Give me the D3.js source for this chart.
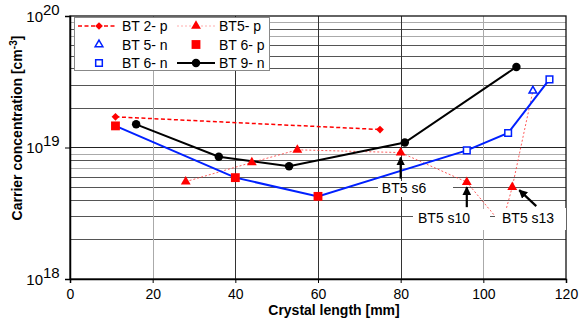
<!DOCTYPE html>
<html><head><meta charset="utf-8">
<script src="https://cdn.jsdelivr.net/npm/d3@7"></script>
<style>
html,body{margin:0;padding:0;background:#fff;}
text{font-family:"Liberation Sans",Arial,Helvetica,sans-serif;}
</style></head>
<body><svg id="c" width="579" height="325"></svg>
<script>
// ---- data ----
const bt2pX = [11, 75];
const bt2pY = [1.71e19, 1.37e19];
const bt5pX = [28, 44, 55, 80, 96, 104.5, 107];
const bt5pY = [5.5e18, 7.7e18, 9.6e18, 9.15e18, 5.45e18, 2.6e18, 5.0e18];
const bt5nX = [112];
const bt5nY = [2.7e19];
const bt6pX = [11, 40, 60];
const bt6pY = [1.46e19, 5.9e18, 4.25e18];
const bt6nX = [96, 106, 116];
const bt6nY = [9.5e18, 1.29e19, 3.3e19];
const bt9nX = [16, 36, 53, 81, 108];
const bt9nY = [1.5e19, 8.5e18, 7.2e18, 1.09e19, 4.1e19];
const xTicks = [0, 20, 40, 60, 80, 100, 120];
const yMajor = [1e18, 1e19, 1e20];
const yTickExp = ["18", "19", "20"];
const legendLabels = ["BT 2- p", "BT5- p", "BT 5- n", "BT 6- p", "BT 6- n", "BT 9- n"];
const annLabels = ["BT5 s6", "BT5 s10", "BT5 s13"];
const annTargetIdx = [3, 4, 6]; // indices into BT5-p series

// ---- setup ----
const svg = d3.select("#c");
const L = 70, R = 566, T = 16, B = 279;
const x = d3.scaleLinear().domain([0, 120]).range([L, R]);
const y = d3.scaleLog().domain([1e18, 1e20]).range([B, T]);
const font = '"Liberation Sans",Arial,Helvetica,sans-serif';

// gridlines
const minor = [];
[1e18, 1e19].forEach(d => { for (let m = 2; m <= 9; m++) minor.push({v: d * m, m}); });
svg.append("g").selectAll("line").data(minor).join("line")
  .attr("x1", L).attr("x2", R)
  .attr("y1", d => Math.round(y(d.v)) + 0.5).attr("y2", d => Math.round(y(d.v)) + 0.5)
  .attr("stroke", d => (d.m === 9 || d.m === 7) ? "#aaa" : "#555").attr("stroke-width", 1);
svg.append("g").selectAll("line").data([1e19]).join("line")
  .attr("x1", L).attr("x2", R).attr("y1", d => Math.round(y(d)) + 0.5).attr("y2", d => Math.round(y(d)) + 0.5)
  .attr("stroke", "#222");
svg.append("g").selectAll("line").data(xTicks.slice(1, -1)).join("line")
  .attr("x1", d => Math.round(x(d)) + 0.5).attr("x2", d => Math.round(x(d)) + 0.5)
  .attr("y1", T).attr("y2", B)
  .attr("stroke", d => (d === 20 || d === 100) ? "#aaa" : "#333");

// frame
svg.append("rect").attr("x", L).attr("y", T).attr("width", R - L).attr("height", B - T)
  .attr("fill", "none").attr("stroke", "#111").attr("stroke-width", 1.3);

// axes
const xAxis = d3.axisBottom(x).tickValues(xTicks).tickSize(4).tickFormat(d3.format("d"));
const gx = svg.append("g").attr("transform", `translate(0,${B})`).call(xAxis);
gx.select(".domain").attr("stroke", "#000").attr("stroke-width", 1.5);
gx.selectAll(".tick line").attr("stroke", "#000");
gx.selectAll(".tick text").attr("font-size", 14).attr("font-family", font).attr("fill", "#000").attr("dy", "0.95em");

const yAxis = d3.axisLeft(y).tickValues(yMajor).tickSize(5).tickFormat("");
const gy = svg.append("g").attr("transform", `translate(${L},0)`).call(yAxis);
gy.select(".domain").attr("stroke", "#000").attr("stroke-width", 1.5);
gy.selectAll(".tick line").attr("stroke", "#000");
gy.selectAll(".tick").append("text")
  .attr("x", -27).attr("y", 5).attr("text-anchor", "end")
  .attr("font-size", 15).attr("font-family", font).attr("fill", "#000")
  .text("10");
gy.selectAll(".tick").append("text")
  .attr("x", -27).attr("y", -2).attr("text-anchor", "start")
  .attr("font-size", 15).attr("font-family", font).attr("fill", "#000")
  .text((d, i) => yTickExp[i]);

// axis titles
svg.append("text").attr("x", 334).attr("y", 315).attr("text-anchor", "middle")
  .attr("font-size", 14).attr("font-weight", "bold").attr("font-family", font)
  .text("Crystal length [mm]");
const yl = svg.append("text").attr("transform", "translate(22,128) rotate(-90)")
  .attr("text-anchor", "middle").attr("font-size", 14).attr("font-weight", "bold").attr("font-family", font);
yl.append("tspan").text("Carrier concentration [cm");
yl.append("tspan").attr("dy", -5).attr("font-size", 10).text("-3");
yl.append("tspan").attr("dy", 5).text("]");

// series helpers
const pts = (xs, ys) => xs.map((v, i) => [v, ys[i]]);
const line = d3.line().x(d => x(d[0])).y(d => y(d[1]));
const P = {
  bt2p: pts(bt2pX, bt2pY), bt5p: pts(bt5pX, bt5pY), bt5n: pts(bt5nX, bt5nY),
  bt6p: pts(bt6pX, bt6pY), bt6n: pts(bt6nX, bt6nY), bt9n: pts(bt9nX, bt9nY)
};
const diamond = d3.symbol().type(d3.symbolSquare).size(30);
const triF = d3.symbol().type(d3.symbolTriangle).size(42);
const triO = d3.symbol().type(d3.symbolTriangle).size(26);
const sqF = d3.symbol().type(d3.symbolSquare).size(78);
const sqO = d3.symbol().type(d3.symbolSquare).size(44);
const circ = d3.symbol().type(d3.symbolCircle).size(56);

// lines
svg.append("path").attr("d", line(P.bt5p.concat(P.bt5n))).attr("fill", "none")
  .attr("stroke", "#f33").attr("stroke-width", 0.8).attr("stroke-dasharray", "2,2");
svg.append("path").attr("d", line(P.bt6p.concat(P.bt6n))).attr("fill", "none")
  .attr("stroke", "#0020ff").attr("stroke-width", 2);
svg.append("path").attr("d", line(P.bt9n)).attr("fill", "none")
  .attr("stroke", "#000").attr("stroke-width", 2);
svg.append("path").attr("d", line(P.bt2p)).attr("fill", "none")
  .attr("stroke", "#f00").attr("stroke-width", 1.5).attr("stroke-dasharray", "4,2.5");

// markers
function marks(data, sym, fill, stroke, sw, rot) {
  svg.append("g").selectAll("path").data(data).join("path")
    .attr("d", sym)
    .attr("transform", d => `translate(${x(d[0])},${y(d[1])})${rot ? " rotate(45)" : ""}`)
    .attr("fill", fill).attr("stroke", stroke).attr("stroke-width", sw);
}
marks(P.bt2p, diamond, "#f00", "none", 0, true);
marks(P.bt5p, triF, "#f00", "none", 0);
marks(P.bt5n, triO, "#fff", "#0020ff", 1.5);
marks(P.bt6p, sqF, "#f00", "none", 0);
marks(P.bt6n, sqO, "#fff", "#0020ff", 1.5);
marks(P.bt9n, circ, "#000", "none", 0);

// annotations
const defs = svg.append("defs");
defs.append("marker").attr("id", "ah").attr("viewBox", "0 0 10 10").attr("refX", 9).attr("refY", 5)
  .attr("markerWidth", 4).attr("markerHeight", 4).attr("orient", "auto")
  .append("path").attr("d", "M0,0 L10,5 L0,10 Z").attr("fill", "#000");
const annBox = [[378, 181, 75, 16], [413, 209, 77, 21], [495, 208, 71, 22]];
const annText = [[404, 193, "middle"], [418, 223, "start"], [502, 223, "start"]];
const annArrow = [[0, 26, 0, 5], [0, 25, 0, 5], [24, 19, 7, 3]]; // dx0,dy0 from target, dx1,dy1 tip
annLabels.forEach((lab, i) => {
  const b = annBox[i];
  svg.append("rect").attr("x", b[0]).attr("y", b[1]).attr("width", b[2]).attr("height", b[3]).attr("fill", "#fff");
  const t = annText[i];
  svg.append("text").attr("x", t[0]).attr("y", t[1]).attr("text-anchor", t[2])
    .attr("font-size", 14).attr("font-family", font).text(lab);
  const p = P.bt5p[annTargetIdx[i]];
  const px = x(p[0]), py = y(p[1]), a = annArrow[i];
  svg.append("line").attr("x1", px + a[0]).attr("y1", py + a[1]).attr("x2", px + a[2]).attr("y2", py + a[3])
    .attr("stroke", "#000").attr("stroke-width", 2.2).attr("marker-end", "url(#ah)");
});

// legend
const lg = svg.append("g");
lg.append("rect").attr("x", 74.5).attr("y", 17.5).attr("width", 195).attr("height", 53)
  .attr("fill", "#fff").attr("stroke", "#888").attr("stroke-width", 1);
const rows = [26, 44.5, 63];
const cols = [[78, 115, 99, 122], [177, 215, 196, 219]];
const legendDef = [
  {line: {c: "#f00", w: 1.5, da: "4,2.5"}, sym: diamond, fill: "#f00", stroke: "none", rot: true},
  {line: {c: "#f99", w: 0.8, da: "2,2"}, sym: triF, fill: "#f00", stroke: "none"},
  {line: null, sym: triO, fill: "#fff", stroke: "#0020ff"},
  {line: null, sym: sqF, fill: "#f00", stroke: "none"},
  {line: null, sym: sqO, fill: "#fff", stroke: "#0020ff"},
  {line: {c: "#000", w: 2, da: null}, sym: circ, fill: "#000", stroke: "none"}
];
legendLabels.forEach((lab, i) => {
  const c = cols[i % 2], ry = rows[Math.floor(i / 2)], d = legendDef[i];
  if (d.line) lg.append("line").attr("x1", c[0]).attr("x2", c[1]).attr("y1", ry).attr("y2", ry)
    .attr("stroke", d.line.c).attr("stroke-width", d.line.w).attr("stroke-dasharray", d.line.da);
  lg.append("path").attr("d", d.sym).attr("transform", `translate(${c[2]},${ry})${d.rot ? " rotate(45)" : ""}`)
    .attr("fill", d.fill).attr("stroke", d.stroke).attr("stroke-width", 1.5);
  lg.append("text").attr("x", c[3]).attr("y", ry + 5).attr("font-size", 14).attr("font-family", font).text(lab);
});
</script></body></html>
